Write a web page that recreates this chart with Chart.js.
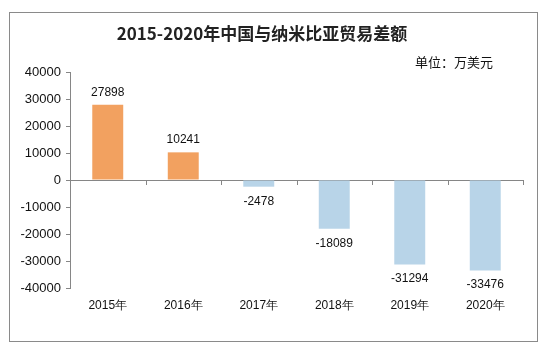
<!DOCTYPE html>
<html lang="zh">
<head>
<meta charset="UTF-8">
<title>2015-2020年中国与纳米比亚贸易差额</title>
<script src="https://cdn.jsdelivr.net/npm/chart.js"></script>
<style>
    body { margin: 0; background: #fff; }
    #wrap { position: relative; width: 546px; height: 353px; }
    /* frame around the chart */
    #frame {
        position: absolute; left: 9px; top: 12px;
        width: 529px; height: 330px; box-sizing: border-box;
        border: 1px solid #8a8a8a;
    }
    #chart { position: absolute; left: 0; top: 0; }
</style>
</head>
<body>
<div id="wrap">
    <div id="frame"></div>
    <canvas id="chart" width="546" height="353"></canvas>
</div>
<script>
// 数据
const years = ['2015年', '2016年', '2017年', '2018年', '2019年', '2020年'];
const balance = [27898, 10241, -2478, -18089, -31294, -33476];
const titleText = '2015-2020年中国与纳米比亚贸易差额';
const unitText = '单位：万美元';

const orange = '#F2A160';
const blue = '#B8D4E8';
const axisGray = '#868686';

// 标题和单位
const titlePlugin = {
    id: 'titles',
    afterDraw(chart) {
        const c = chart.ctx;
        c.save();
        c.fillStyle = '#222';
        c.textAlign = 'center';
        c.textBaseline = 'middle';
        c.font = 'bold 17px "Noto Sans CJK SC", sans-serif';
        c.fillText(titleText, 262, 34);
        c.textAlign = 'right';
        c.font = '13px "Noto Sans CJK SC", sans-serif';
        c.fillStyle = '#111';
        c.fillText(unitText, 493, 62);
        c.restore();
    }
};

// 数值标签 + 零线上的分类刻度
const labelPlugin = {
    id: 'barLabels',
    afterDatasetsDraw(chart) {
        const c = chart.ctx;
        const x = chart.scales.x;
        const y = chart.scales.y;
        const zero = y.getPixelForValue(0);
        c.save();
        c.strokeStyle = axisGray;
        c.lineWidth = 1;
        for (let i = 1; i <= years.length; i++) {
            const px = i < years.length
                ? (x.getPixelForValue(i - 1) + x.getPixelForValue(i)) / 2
                : chart.chartArea.right;
            const sx = Math.round(px) + 0.5;
            c.beginPath();
            c.moveTo(sx, zero);
            c.lineTo(sx, zero + 5);
            c.stroke();
        }
        c.fillStyle = '#111';
        c.font = '12px "Liberation Sans", Arial, sans-serif';
        c.textAlign = 'center';
        c.textBaseline = 'alphabetic';
        chart.getDatasetMeta(0).data.forEach((bar, i) => {
            const v = balance[i];
            if (v >= 0) c.fillText(String(v), bar.x, bar.y - 9);
            else c.fillText(String(v), bar.x, bar.y + 18);
        });
        c.restore();
    }
};

new Chart(document.getElementById('chart'), {
    type: 'bar',
    data: {
        labels: years,
        datasets: [{
            data: balance,
            backgroundColor: balance.map(v => v >= 0 ? orange : blue),
            borderWidth: 0,
            categoryPercentage: 1,
            barPercentage: 0.41
        }]
    },
    options: {
        responsive: false,
        animation: false,
        devicePixelRatio: 1,
        layout: { padding: { top: 72, right: 23, bottom: 0, left: 0 } },
        plugins: {
            legend: { display: false },
            tooltip: { enabled: false }
        },
        scales: {
            x: {
                grid: { display: false, drawTicks: false },
                border: { display: false },
                ticks: {
                    color: '#111',
                    padding: 10,
                    maxRotation: 0,
                    font: { family: '"Liberation Sans", Arial, sans-serif', size: 12 }
                },
                afterFit(scale) { scale.height = 65; }
            },
            y: {
                min: -40000,
                max: 40000,
                ticks: {
                    stepSize: 10000,
                    color: '#111',
                    padding: 5,
                    font: { family: '"Liberation Sans", Arial, sans-serif', size: 13 },
                    callback: v => String(v)
                },
                grid: {
                    color: ctx => ctx.tick && ctx.tick.value === 0 ? axisGray : 'rgba(0,0,0,0)',
                    tickColor: axisGray,
                    tickLength: 4
                },
                border: { display: true, color: axisGray },
                afterFit(scale) { scale.width = 70; }
            }
        }
    },
    plugins: [titlePlugin, labelPlugin]
});
</script>
</body>
</html>
